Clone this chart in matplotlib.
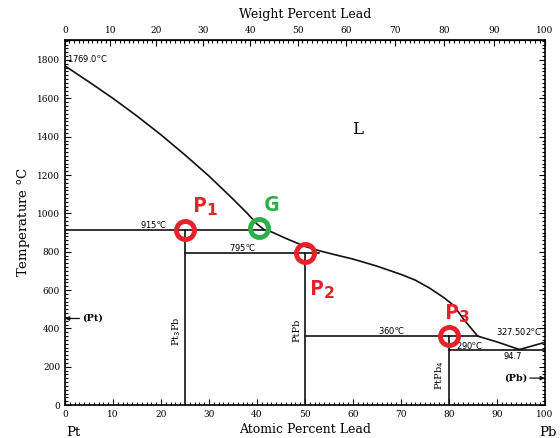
import matplotlib.pyplot as plt
import numpy as np
from matplotlib.ticker import MultipleLocator

# atomic masses used for the weight percent axis
M_PT = 195.08
M_PB = 207.2

# liquidus, Pt side down to the eutectic
liq_x = [0, 5, 10, 15, 20, 25, 30, 35, 38, 40, 41.5, 43, 46, 50, 53, 57, 60, 65, 70, 73, 76, 79, 81, 83, 86, 90, 94.7]
liq_t = [1769, 1686, 1600, 1508, 1410, 1305, 1195, 1075, 1000, 945, 915, 904, 870, 828, 805, 780, 762, 725, 682, 652, 610, 560, 520, 450, 360, 330, 290]
# liquidus, Pb side
liq2_x = [94.7, 100]
liq2_t = [290, 327.5]

# invariant lines (x start, x end, temperature)
hor_lines = [(0, 41.5, 915), (25, 53, 795), (50, 86, 360), (80, 100, 290)]
# compound lines (composition, top temperature)
vert_lines = [(25, 915), (50, 795), (80, 360)]

# marked points
pts_red = [(25, 915), (50, 795), (80, 360)]
pt_green = (40.5, 925)


def at2wt(a):
    a = np.asarray(a, dtype=float)
    return 100 * a * M_PB / (a * M_PB + (100 - a) * M_PT)


def wt2at(w):
    w = np.asarray(w, dtype=float)
    return 100 * (w / M_PB) / (w / M_PB + (100 - w) / M_PT)


fig = plt.figure(figsize=(5.6, 4.38), dpi=100)
ax = fig.add_axes([0.116, 0.075, 0.857, 0.834])

lc = '#111111'
ax.plot(liq_x, liq_t, color=lc, lw=1.2)
ax.plot(liq2_x, liq2_t, color=lc, lw=1.2)
for x0, x1, t in hor_lines:
    ax.plot([x0, x1], [t, t], color=lc, lw=1.2)
for x, t in vert_lines:
    ax.plot([x, x], [0, t], color=lc, lw=1.2)

ax.set_xlim(0, 100)
ax.set_ylim(0, 1905)

serif = 'DejaVu Serif'
ax.set_xticks(range(0, 101, 10))
ax.set_yticks(range(0, 1801, 200))
ax.xaxis.set_minor_locator(MultipleLocator(1))
ax.yaxis.set_minor_locator(MultipleLocator(20))
ax.tick_params(which='both', direction='in', right=True, labelsize=6.5, width=0.8)
ax.tick_params(which='major', length=4)
ax.tick_params(which='minor', length=2)
for lab in ax.get_xticklabels() + ax.get_yticklabels():
    lab.set_family(serif)
for s in ax.spines.values():
    s.set_linewidth(1.2)

sec = ax.secondary_xaxis('top', functions=(at2wt, wt2at))
sec.set_xticks(range(0, 101, 10))
sec.xaxis.set_minor_locator(MultipleLocator(1))
sec.tick_params(which='both', direction='in', labelsize=6.5, width=0.8)
sec.tick_params(which='major', length=4)
sec.tick_params(which='minor', length=2)
for lab in sec.get_xticklabels():
    lab.set_family(serif)
sec.set_xlabel('Weight Percent Lead', family=serif, fontsize=9, labelpad=6)

ax.set_xlabel('Atomic Percent Lead', family=serif, fontsize=9, labelpad=3)
ax.set_ylabel('Temperature $^{\\rm o}$C', family=serif, fontsize=9.5, labelpad=4)
fig.text(73 / 560, 1 - 432 / 438, 'Pt', family=serif, fontsize=9.5, ha='center', va='center')
fig.text(548 / 560, 1 - 432 / 438, 'Pb', family=serif, fontsize=9.5, ha='center', va='center')

# small annotations
fs = 6
ax.text(0.5, 1808, '1769.0$^{\\rm o}$C', fontsize=fs, ha='left', va='center')
ax.text(18.4, 944, '915$^{\\rm o}$C', fontsize=fs, ha='center', va='center')
ax.text(37.1, 820, '795$^{\\rm o}$C', fontsize=fs, ha='center', va='center')
ax.text(68, 391, '360$^{\\rm o}$C', fontsize=fs, ha='center', va='center')
ax.text(84.4, 313, '290$^{\\rm o}$C', fontsize=fs, ha='center', va='center')
ax.text(99.5, 382, '327.502$^{\\rm o}$C', fontsize=fs, ha='right', va='center')
ax.text(93.4, 252, '94.7', fontsize=fs, ha='center', va='center')
ax.text(23.3, 383, 'Pt$_3$Pb', fontsize=7, rotation=90, ha='center', va='center', family=serif)
ax.text(48.3, 391, 'PtPb', fontsize=7, rotation=90, ha='center', va='center', family=serif)
ax.text(78.1, 157, 'PtPb$_4$', fontsize=7, rotation=90, ha='center', va='center', family=serif)
ax.annotate('(Pt)', xy=(0, 452), xytext=(3.6, 452), fontsize=7, family=serif, weight='bold',
            ha='left', va='center', arrowprops=dict(arrowstyle='-|>', color=lc, lw=0.9, shrinkA=0, shrinkB=0, mutation_scale=6))
ax.annotate('(Pb)', xy=(100, 141), xytext=(96.3, 141), fontsize=7, family=serif, weight='bold',
            ha='right', va='center', arrowprops=dict(arrowstyle='-|>', color=lc, lw=0.9, shrinkA=0, shrinkB=0, mutation_scale=6))
ax.text(61, 1435, 'L', fontsize=12, family=serif, ha='center', va='center')

# highlighted points
red = '#e8202a'
green = '#2bb04a'
for x, t in pts_red:
    ax.plot(x, t, 'o', ms=13, mfc='none', mec=red, mew=3.5, zorder=5)
ax.plot(pt_green[0], pt_green[1], 'o', ms=13, mfc='none', mec=green, mew=3.5, zorder=5)

big = dict(fontsize=16, weight='bold', family='Open Sans', ha='center', va='center')
ax.text(29.2, 1033, 'P$_\\mathbf{1}$', color=red, **big)
ax.text(43, 1043, 'G', color=green, **big)
ax.text(53.5, 600, 'P$_\\mathbf{2}$', color=red, **big)
ax.text(81.6, 478, 'P$_\\mathbf{3}$', color=red, **big)

fig.savefig('out.png', dpi=100)
